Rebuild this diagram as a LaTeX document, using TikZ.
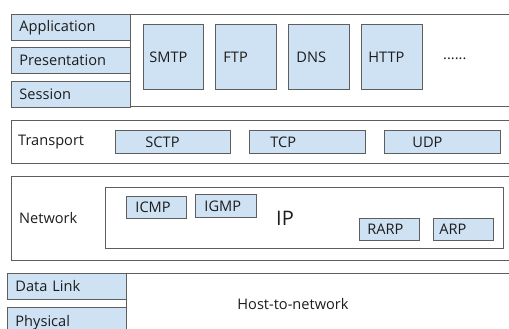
\documentclass[tikz,border=0pt]{standalone}
\usepackage{fontspec}
\setmainfont{Open Sans}
\definecolor{lblue}{HTML}{CFE2F3}
\definecolor{lgray}{HTML}{5E5E5E}
\definecolor{tcol}{HTML}{1C1C1C}
\begin{document}
\begin{tikzpicture}[x=1pt,y=-1pt,
  every node/.style={font=\fontsize{14.6}{16}\selectfont, text=tcol},
  cont/.style={draw=lgray, line width=0.9pt, fill=white, anchor=north west, inner sep=0pt},
  pbox/.style n args={3}{draw=lgray, line width=0.9pt, fill=lblue, anchor=north west,
     inner ysep=0pt, inner xsep=#3, text width=#1-2*#3, minimum height=#2, align=left},
  plain/.style={inner sep=0pt}
]
\clip (0,0) rectangle (509,329);
\fill[white] (0,0) rectangle (509,329);
% application group
\node[cont, minimum width=390, minimum height=92] (app) at (130,14) {};
\node[pbox={119}{26}{8}] (appl) at (11,14) {Application};
\node[pbox={119}{26}{8}] (pres) at (11,47) {Presentation};
\node[pbox={119}{26}{8}] (sess) at (11,81) {Session};
\node[pbox={60}{65}{6}] (smtp) at (143,24) {SMTP};
\node[pbox={61}{65}{8}] (ftp) at (215,24) {FTP};
\node[pbox={61}{65}{8}] (dns) at (288,24) {DNS};
\node[pbox={61}{65}{7}] (http) at (361,24) {HTTP};
\node[plain, anchor=west] (dots) at (443,59) {......};
% transport
\node[cont, minimum width=510, minimum height=43] (trans) at (11,120) {};
\node[plain, anchor=west] (tl) at (18,142) {Transport};
\node[pbox={115}{23}{30}] (sctp) at (115,130) {SCTP};
\node[pbox={116}{23}{21}] (tcp) at (249,130) {TCP};
\node[pbox={116}{23}{28}] (udp) at (384,130) {UDP};
% network
\node[cont, minimum width=510, minimum height=84] (net) at (11,176) {};
\node[plain, anchor=west] (nl) at (19,218) {Network};
\node[cont, minimum width=398, minimum height=61] (ip) at (105,187) {};
\node[plain, font=\fontsize{20}{22}\selectfont] (iplabel) at (285,218) {IP};
\node[pbox={60}{22}{9}] (icmp) at (126,196) {ICMP};
\node[pbox={61}{23}{9}] (igmp) at (195,194) {IGMP};
\node[pbox={60}{22}{8}] (rarp) at (359,218) {RARP};
\node[pbox={60}{22}{6}] (arp) at (433,218) {ARP};
% host-to-network
\node[cont, minimum width=400, minimum height=70] (host) at (126,273) {};
\node[plain] (hl) at (293,304) {Host-to-network};
\node[pbox={119}{26}{8}] (dl) at (7,273) {Data Link};
\node[pbox={119}{30}{8}] (phys) at (7,307) {Physical};
\end{tikzpicture}
\end{document}
